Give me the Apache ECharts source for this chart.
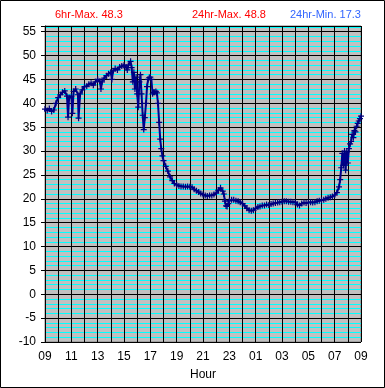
<!DOCTYPE html>
<html><head><meta charset="utf-8">
<script src="https://cdn.jsdelivr.net/npm/echarts@6/dist/echarts.min.js"></script>
<style>html,body{margin:0;padding:0;background:#fff}#c{width:385px;height:388px}</style>
</head><body><div id="c"></div>
<script>
// hours after 09:00
var hours = [0,0.17,0.33,0.5,0.67,0.83,1.0,1.17,1.33,1.5,1.67,1.75,1.83,2.0,2.08,2.17,2.33,2.5,2.55,2.67,2.83,3.0,3.17,3.33,3.5,3.67,3.83,4.0,4.17,4.25,4.33,4.5,4.67,4.83,5.0,5.08,5.17,5.33,5.5,5.67,5.83,6.0,6.17,6.25,6.33,6.5,6.58,6.67,6.75,6.83,6.92,7.0,7.08,7.17,7.25,7.33,7.42,7.5,7.58,7.67,7.75,7.83,7.92,8.0,8.08,8.17,8.25,8.33,8.42,8.5,8.58,8.67,8.75,8.83,8.92,9.0,9.17,9.33,9.5,9.67,9.83,10.0,10.17,10.33,10.5,10.67,10.83,11.0,11.17,11.33,11.5,11.67,11.83,12.0,12.17,12.33,12.5,12.67,12.83,13.0,13.17,13.33,13.5,13.58,13.67,13.75,13.83,13.92,14.0,14.17,14.33,14.5,14.67,14.83,15.0,15.17,15.33,15.5,15.67,15.83,16.0,16.17,16.33,16.5,16.67,16.83,17.0,17.17,17.33,17.5,17.67,17.83,18.0,18.17,18.33,18.5,18.67,18.83,19.0,19.17,19.33,19.5,19.67,19.83,20.0,20.17,20.33,20.5,20.67,20.83,21.0,21.17,21.33,21.5,21.67,21.83,22.0,22.17,22.33,22.42,22.5,22.58,22.67,22.75,22.83,22.92,23.0,23.08,23.17,23.25,23.33,23.42,23.5,23.58,23.67,23.75,23.83,23.92,24.0];
var temps = [38.8,38.5,38.9,38.3,38.6,40.0,41.2,41.8,42.3,42.6,41.5,37.1,41.2,41.5,37.9,42.5,43.0,41.8,36.9,42.0,42.8,43.5,43.6,44.0,44.2,43.8,44.5,45.0,44.6,43.0,44.5,45.3,45.8,46.2,46.5,45.0,46.8,47.3,47.0,47.6,47.8,48.0,47.5,47.0,48.0,48.8,47.5,44.5,46.5,43.0,45.5,42.0,39.2,44.5,46.0,42.0,37.5,34.5,37.0,40.0,43.5,45.0,45.4,45.5,45.0,42.0,42.3,42.3,42.5,42.2,40.0,36.0,32.5,30.5,29.0,28.0,26.8,25.8,24.6,23.8,23.2,22.9,22.7,22.6,22.6,22.5,22.6,22.5,22.4,22.0,21.7,21.4,21.1,20.9,20.7,20.6,20.7,20.7,20.9,21.2,21.8,22.3,21.6,21.0,19.5,18.5,18.4,19.0,19.6,19.8,19.8,19.6,19.5,19.3,19.0,18.5,18.0,17.6,17.5,17.6,18.0,18.3,18.4,18.6,18.6,18.8,18.7,18.9,19.0,19.1,19.2,19.3,19.4,19.5,19.5,19.4,19.4,19.3,19.3,18.8,18.6,19.0,19.2,19.1,19.2,19.3,19.2,19.3,19.5,19.6,19.7,19.8,20.0,20.2,20.3,20.5,20.8,21.3,22.5,24.0,26.5,29.5,27.0,30.0,26.0,29.8,27.5,30.5,31.5,32.0,33.5,32.8,34.3,34.0,35.2,35.8,36.3,36.8,37.3];
var hourLabels = ['09','11','13','15','17','19','21','23','01','03','05','07','09'];
var headerTexts = ['6hr-Max. 48.3','24hr-Max. 48.8','24hr-Min. 17.3'];

var data = hours.map(function(h,i){return [h,temps[i]];});
var FONT = "'Liberation Sans', Arial, sans-serif";
var YMAX = 56.2;
var chart = echarts.init(document.getElementById('c'), null, {renderer:'canvas'});
chart.setOption({
  animation:false,
  backgroundColor:'#ffffff',
  title:[
    {text:headerTexts[0], left:55, top:9, padding:0, textStyle:{color:'#ff0000',fontSize:11,fontWeight:'normal',fontFamily:FONT}},
    {text:headerTexts[1], left:192, top:9, padding:0, textStyle:{color:'#ff0000',fontSize:11,fontWeight:'normal',fontFamily:FONT}},
    {text:headerTexts[2], left:290, top:9, padding:0, textStyle:{color:'#3366ff',fontSize:11,fontWeight:'normal',fontFamily:FONT}}
  ],
  grid:{left:45, right:24, top:26, bottom:46, show:true, backgroundColor:'#c0c0c0', borderColor:'#808080', borderWidth:1},
  xAxis:{
    type:'value', min:0, max:24, interval:2,
    name:'Hour', nameLocation:'middle', nameGap:27,
    nameTextStyle:{color:'#000',fontSize:12,fontFamily:FONT},
    axisLine:{show:true,lineStyle:{color:'#000',width:1}},
    axisTick:{show:true,length:4,lineStyle:{color:'#000'}},
    axisLabel:{color:'#000',fontSize:12,fontFamily:FONT,margin:9,formatter:function(v){return hourLabels[Math.round(v/2)];}},
    splitLine:{show:true,lineStyle:{color:'#000',width:1}},
    minorTick:{show:false,splitNumber:2},
    minorSplitLine:{show:true,lineStyle:{color:'#000',width:1}}
  },
  yAxis:[
    {type:'value', min:-10, max:YMAX, interval:1,
     axisLine:{show:false}, axisTick:{show:false}, axisLabel:{show:false},
     splitLine:{show:true,lineStyle:{color:'#00ffff',width:1}}},
    {type:'value', min:-10, max:YMAX, interval:5, position:'left',
     axisLine:{show:true,lineStyle:{color:'#000',width:1}},
     axisTick:{show:true,length:4,lineStyle:{color:'#000'}},
     axisLabel:{color:'#000',fontSize:12,fontFamily:FONT,margin:9,formatter:function(v){return v>55.5?'':String(v);}},
     splitLine:{show:true,lineStyle:{color:'#000',width:1}}}
  ],
  series:[{
    type:'line', xAxisIndex:0, yAxisIndex:1, data:data,
    symbol:'path://M2 0L3 0L3 2L5 2L5 3L3 3L3 5L2 5L2 3L0 3L0 2L2 2Z',
    symbolSize:6, showAllSymbol:true,
    itemStyle:{color:'#000080'},
    lineStyle:{color:'#00008c',width:2},
    z:5
  }]
});
var top = chart.convertToPixel({xAxisIndex:0,yAxisIndex:1},[15,YMAX]);
var bot = chart.convertToPixel({xAxisIndex:0,yAxisIndex:1},[15,-10]);
chart.setOption({
  graphic:[
    {type:'line', shape:{x1:Math.round(top[0]), y1:top[1]-3, x2:Math.round(bot[0]), y2:bot[1]+11}, style:{stroke:'#000',lineWidth:2.5}, z:100},
    {type:'rect', shape:{x:0.5,y:0.5,width:384,height:387}, style:{fill:null,stroke:'#000',lineWidth:1}, z:100}
  ]
});
</script></body></html>
